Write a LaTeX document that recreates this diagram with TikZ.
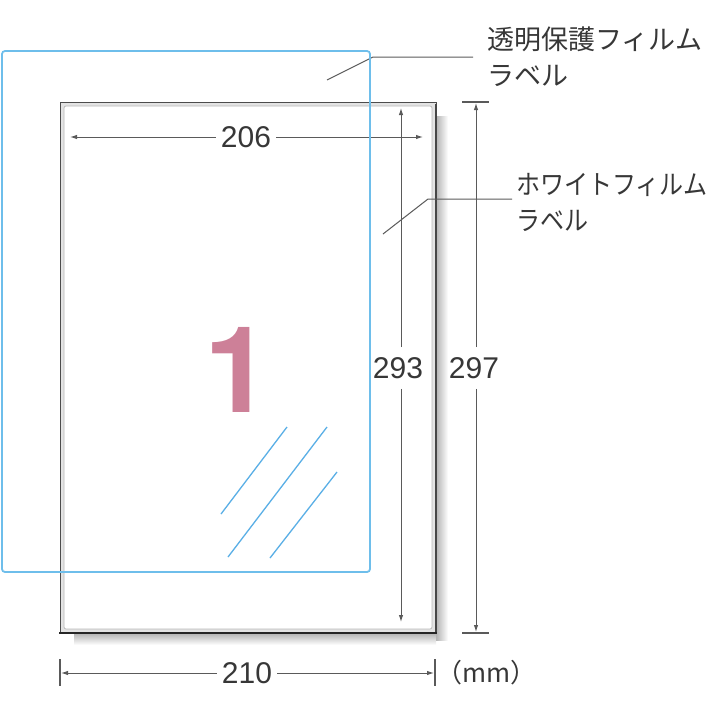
\documentclass[tikz,border=0pt]{standalone}
\usepackage{fontspec}
\setmainfont{Liberation Sans}
\newfontfamily\jp{Noto Sans CJK JP}
\newfontfamily\jpnarrow{Noto Sans CJK JP}[FakeStretch=0.89]
\newfontfamily\heros{TeX Gyre Heros}
\usetikzlibrary{arrows.meta}
\definecolor{film}{RGB}{110,190,235}
\definecolor{hatch}{RGB}{90,175,230}
\definecolor{pinknum}{RGB}{205,128,152}
\definecolor{ink}{RGB}{55,55,55}
\definecolor{lead}{RGB}{90,90,90}
\begin{document}
\begin{tikzpicture}[x=1pt,y=-1pt,
  num/.style={font=\fontsize{30}{34}\selectfont, text=ink, inner xsep=5pt, inner ysep=10pt},
  jplabel/.style={font=\jp\fontsize{27}{36}\selectfont, text=ink, align=left, inner sep=0pt, anchor=north west},
  dimarrow/.style={draw=lead, line width=1pt, -{Latex[length=7pt,width=4.5pt]}},
  tickline/.style={draw=lead, line width=1.3pt},
  leader/.style={draw=lead, line width=1pt},
  hatchline/.style={draw=hatch, line width=1.3pt}]
\useasboundingbox (0,0) rectangle (713,713);
% soft shadow of the sheet
\shade[left color=gray!60, right color=white] (436,116) rectangle (448,640);
\shade[top color=gray!60, bottom color=white] (74,633) rectangle (436,645);
% white film label sheet
\fill[white] (60,102) rectangle (436,633);
\fill[gray!22, even odd rule] (60,102) rectangle (436,633) (64,106) rectangle (432,629);
\draw[gray!60!black, line width=1pt] (60,102) rectangle (436,633);
\draw[gray!55, line width=0.8pt, rounded corners=2pt] (64,106) rectangle (432,629);
\draw[gray!55!black, line width=1.5pt] (436,104) -- (436,633);
\draw[black!85, line width=2.6pt] (59,633) -- (437,633);
% big number
\node[font=\heros\bfseries\fontsize{120}{120}\selectfont, text=pinknum, inner sep=0pt] (big1) at (238,370) {1};
% hatch lines
\coordinate (h1a) at (221,514); \coordinate (h1b) at (287,427);
\coordinate (h2a) at (228,557); \coordinate (h2b) at (327,427);
\coordinate (h3a) at (270,558); \coordinate (h3b) at (337,472);
\draw[hatchline] (h1a) -- (h1b);
\draw[hatchline] (h2a) -- (h2b);
\draw[hatchline] (h3a) -- (h3b);
% 206
\coordinate (t206l) at (70,137);
\coordinate (t206r) at (423,137);
\node[num] (d206) at (246,137) {206};
\draw[dimarrow] (d206) -- (t206l);
\draw[dimarrow] (d206) -- (t206r);
% 293
\coordinate (t293t) at (401,108);
\coordinate (t293b) at (401,622);
\node[num] (d293) at (398,368) {293};
\draw[dimarrow] (d293.north -| t293t) -- (t293t);
\draw[dimarrow] (d293.south -| t293b) -- (t293b);
% 297
\coordinate (b297tl) at (462,102); \coordinate (b297tr) at (489,102);
\coordinate (b297bl) at (462,633); \coordinate (b297br) at (489,633);
\coordinate (t297t) at (476,103);
\coordinate (t297b) at (476,632);
\draw[tickline] (b297tl) -- (b297tr);
\draw[tickline] (b297bl) -- (b297br);
\node[num] (d297) at (474,368) {297};
\draw[dimarrow] (d297.north -| t297t) -- (t297t);
\draw[dimarrow] (d297.south -| t297b) -- (t297b);
% 210
\coordinate (k210lt) at (60,659); \coordinate (k210lb) at (60,686);
\coordinate (k210rt) at (435,659); \coordinate (k210rb) at (435,686);
\coordinate (t210l) at (61,673);
\coordinate (t210r) at (434,673);
\draw[tickline] (k210lt) -- (k210lb);
\draw[tickline] (k210rt) -- (k210rb);
\node[num] (d210) at (247,673) {210};
\draw[dimarrow] (d210) -- (t210l);
\draw[dimarrow] (d210) -- (t210r);
\node[font=\jp\fontsize{26}{30}\selectfont, text=ink, inner sep=0pt, anchor=west] (unit) at (436,673) {（mm）};
% labels
\node[jplabel] (lab1) at (487,27) {透明保護フィルム\\ラベル};
\coordinate (l1a) at (327,80); \coordinate (l1b) at (373,57); \coordinate (l1c) at (473,57);
\draw[leader] (l1a) -- (l1b) -- (l1c);
\node[jplabel, font=\jpnarrow\fontsize{27}{36}\selectfont] (lab2) at (516,173) {ホワイトフィルム\\ラベル};
\coordinate (l2a) at (383,234); \coordinate (l2b) at (428,199); \coordinate (l2c) at (512,199);
\draw[leader] (l2a) -- (l2b) -- (l2c);
% transparent film (on top)
\draw[film, line width=1.8pt, rounded corners=3pt] (2,51) rectangle (370,572);
\end{tikzpicture}
\end{document}
